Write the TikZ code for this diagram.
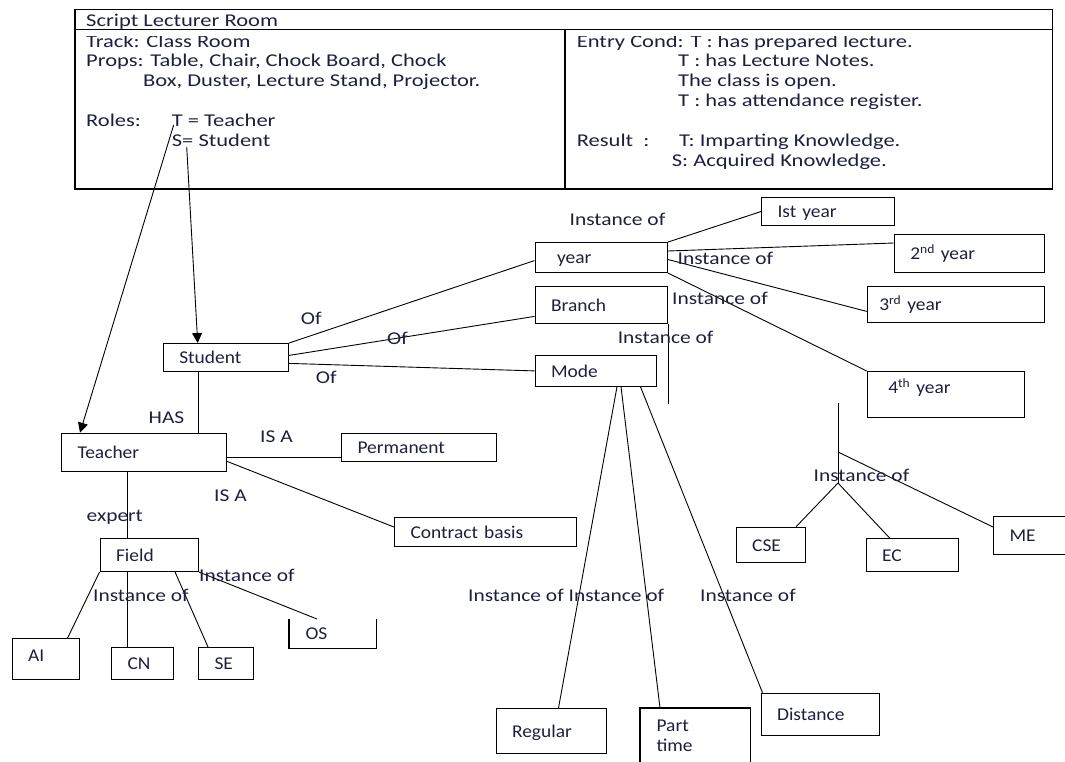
\documentclass[tikz,border=0pt]{standalone}
\usepackage{fontspec}
\setmainfont{Carlito}[FakeStretch=1.08]
\newfontfamily\edgefont{Carlito}[FakeStretch=1.19]
\newfontfamily\headfont{Carlito}[FakeStretch=1.25]
\usetikzlibrary{calc,arrows.meta}

\definecolor{ink}{RGB}{28,32,62}

\tikzset{
  box/.style={draw=black, line width=1.1pt, anchor=north west, align=left,
    inner xsep=16pt, inner ysep=0pt, text height=15pt, text depth=2.5pt, text=ink},
  link/.style={line width=0.9pt, black},
  lbl/.style={anchor=mid west, inner sep=0pt, text=ink,
    font=\edgefont\fontsize{18}{20}\selectfont},
  head/.style={anchor=mid west, inner sep=0pt, text=ink,
    font=\headfont\fontsize{18}{20}\selectfont},
}

\begin{document}
\begin{tikzpicture}[x=1pt, y=-1pt, font=\fontsize{18}{20}\selectfont]

  \useasboundingbox (0,0) rectangle (1065,761);

  % Script frame
  \draw[line width=1.1pt] (75,9.3) rectangle (1052.7,189);
  \draw[line width=1.1pt] (75,29.3) -- (1052.7,29.3);
  \draw[line width=1.1pt] (565,29.3) -- (565,189);

  % Left column of the script
  \node[head] (title) at (86,24.5) {Script Lecturer Room};
  \node[head] (track) at (86,45.5) {Track: Class Room};
  \node[head] (props) at (86,64.5) {Props: Table, Chair, Chock Board, Chock};
  \node[head] (props2) at (143,84.5) {Box, Duster, Lecture Stand, Projector.};
  \node[head] (roles) at (86,124.5) {Roles:};
  \node[head] (roleT) at (171.7,124.5) {T = Teacher};
  \node[head] (roleS) at (171.7,144.5) {S= Student};

  % Right column of the script
  \node[head] (entry) at (576.7,45.5) {Entry Cond: T : has prepared lecture.};
  \node[head] (cond1) at (678,64.5) {T : has Lecture Notes.};
  \node[head] (cond2) at (678,84.5) {The class is open.};
  \node[head] (cond3) at (678,104.5) {T : has attendance register.};
  \node[head] (result) at (576.7,144.5) {Result \ :};
  \node[head] (res1) at (679,144.5) {T: Imparting Knowledge.};
  \node[head] (res2) at (671.7,164.5) {S: Acquired Knowledge.};

  % cut tops of the first lines
  \fill[white] (76,30.2) rectangle (564,36);
  \fill[white] (566,30.2) rectangle (1052,36);

  % Boxes
  \node[box, text width=93.3pt, minimum height=27.7pt] (student) at (162.7,343) {Student};
  \node[box, text width=133pt, minimum height=38.3pt] (teacher) at (61,432.7) {Teacher};
  \node[box, text width=122.6pt, minimum height=28.3pt] (permanent) at (341,432.7) {Permanent};
  \node[box, text width=150pt, minimum height=29.6pt] (contract) at (394,516.7) {Contract basis};
  \node[box, text width=66.5pt, minimum height=33pt] (field) at (99.5,538) {Field};
  \node[box, text width=35pt, text depth=10.4pt, minimum height=41pt] (ai) at (11.5,638) {AI};
  \node[box, text width=30pt, minimum height=32pt] (cn) at (111,647) {CN};
  \node[box, text width=22.6pt, minimum height=32pt] (se) at (198,647) {SE};
  \node[box, draw=none, text width=54pt, minimum height=28pt] (os) at (289,619) {OS};
  \draw[line width=1.1pt] (os.north west) |- (os.south east) -- (os.north east);

  \node[box, inner xsep=22pt, text width=88.5pt, minimum height=30pt] (year) at (534.5,242) {year};
  \node[box, text width=100.5pt, minimum height=37.6pt] (branch) at (534.5,285.7) {Branch};
  \node[box, text width=89pt, minimum height=30.7pt] (mode) at (534.5,355) {Mode};

  \node[box, text width=101pt, minimum height=28.6pt] (ist) at (761,196.7) {Ist year};
  \node[box, text width=118pt, minimum height=38pt] (second) at (893.7,234) {2\textsuperscript{nd} year};
  \node[box, inner xsep=12pt, text width=153pt, minimum height=36.3pt] (third) at (866.7,285.7) {3\textsuperscript{rd} year};
  \node[box, inner xsep=21pt, text width=115pt, text depth=17pt,
    minimum height=45.7pt] (fourth) at (866.7,371) {4\textsuperscript{th} year};

  \node[box, text width=37.4pt, minimum height=35.3pt] (cse) at (735.6,526.7) {CSE};
  \node[box, text width=60.4pt, minimum height=33pt] (ec) at (865.6,538) {EC};
  \node[box, text width=53pt, minimum height=38pt] (me) at (993,516) {ME};

  \node[box, text width=78pt, minimum height=45pt] (regular) at (495.5,708) {Regular};
  \node[box, draw=none, text width=77pt, text depth=22pt, minimum height=53pt] (pt) at (640,708) {Part\\time};
  \draw[line width=1.1pt] (pt.south west) |- (pt.north east) -- (pt.south east);
  \node[box, text width=86.3pt, minimum height=42.3pt] (distance) at (760.5,692.7) {Distance};

  % Roles to boxes
  \draw[link, -{Triangle[length=10pt,width=10pt]}] ([xshift=2pt,yshift=2pt]roleT.base west) -- ([xshift=19pt]teacher.north west);
  \draw[link, -{Triangle[length=10pt,width=10pt]}] ([xshift=15pt]roleS.base west) -- ([xshift=35pt]student.north west);

  % Student links
  \draw[link] (student.north east) -- ([yshift=-3pt]year.west);
  \draw[link] ([yshift=2pt]student.east) -- ([yshift=8pt]branch.south west);
  \draw[link] ([yshift=-6pt]student.east) -- (mode.west);
  \coordinate (sx) at ($(student.south west)!0.28!(student.south east)$);
  \draw[link] (sx) -- (sx |- teacher.north);

  % Teacher links
  \draw[link] ([yshift=-5pt]teacher.east) -- ([yshift=-5pt]teacher.east -| permanent.west);
  \draw[link] ([yshift=-9pt]teacher.east) -- ([yshift=5pt]contract.west);
  \coordinate (fx) at ([xshift=28pt]field.north west);
  \draw[link] (fx) -- (fx |- teacher.south);

  % Field links
  \draw[link] (field.south west) -- ([xshift=-12pt]ai.north east);
  \draw[link] (fx |- field.south) -- (fx |- cn.north);
  \draw[link] ([xshift=-24pt]field.south east) -- ([xshift=10pt]se.north west);
  \draw[link] (field.south east) -- ([xshift=28pt]os.north west);

  % year links
  \draw[link] (year.north east) -- (ist.west);
  \draw[link] ([yshift=-9pt]year.north east) -- ([yshift=-9pt]second.north west);
  \draw[link] ([yshift=-2pt]year.east) -- ([yshift=-7pt]third.west);
  \draw[link] (year.south east) -- (fourth.north west);

  % Branch links
  \coordinate (bdrop) at ([yshift=-80pt]branch.south east);
  \draw[link] (branch.south east) -- (bdrop);
  \coordinate (jtop) at (838,403);
  \coordinate (jme) at (838,452);
  \coordinate (jlow) at (838,483);
  \draw[link] (jtop) -- (jlow);
  \draw[link] (jme) -- ([yshift=-11pt]me.north west);
  \draw[link] (jlow) -- ([xshift=-10pt]cse.north east);
  \draw[link] (jlow) -- ([xshift=24pt]ec.north west);

  % Mode links
  \draw[link] ([xshift=82.5pt]mode.south west) -- ([xshift=63pt]regular.north west);
  \draw[link] ([xshift=86.5pt]mode.south west) -- ([xshift=20pt]pt.north west);
  \draw[link] ([xshift=106pt]mode.south west) -- ([xshift=2pt]distance.north west);

  % Link labels
  \node[lbl] (ofyear) at (300.7,322.3) {Of};
  \node[lbl] (ofbranch) at (387,341.7) {Of};
  \node[lbl] (ofmode) at (315.7,381) {Of};
  \node[lbl] (has) at (148.5,421) {HAS};
  \node[lbl] (isaperm) at (260,440) {IS A};
  \node[lbl] (isacontr) at (214,499) {IS A};
  \node[lbl] (expert) at (86.5,519) {expert};
  \node[lbl] (instos) at (199,579) {Instance of};
  \node[lbl] (instfield) at (93,599) {Instance of};
  \node[lbl] (instist) at (569.5,223.3) {Instance of};
  \node[lbl] (instsecond) at (677.4,262) {Instance of};
  \node[lbl] (instthird) at (672,302) {Instance of};
  \node[lbl] (instbranch) at (617.6,341) {Instance of};
  \node[lbl] (instdept) at (813.5,479) {Instance of};
  \node[lbl] (instmode) at (468,599) {Instance of Instance of};
  \node[lbl] (instdist) at (700,599) {Instance of};

\end{tikzpicture}
\end{document}
